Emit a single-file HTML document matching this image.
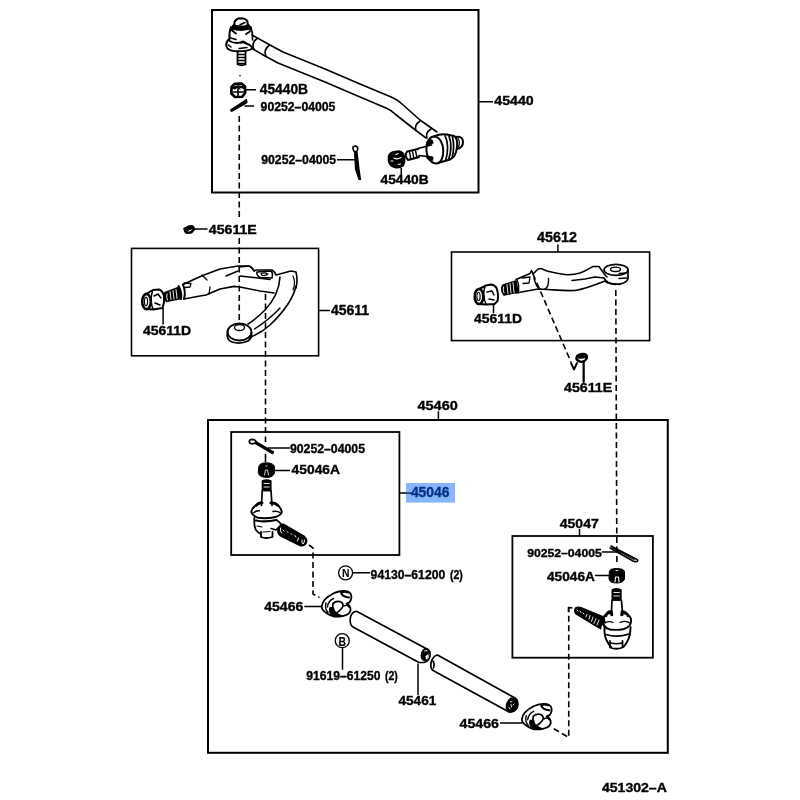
<!DOCTYPE html>
<html><head><meta charset="utf-8"><style>
html,body{margin:0;padding:0;background:#fff;}
svg{display:block;will-change:transform;}
text{font-family:"Liberation Sans",sans-serif;font-weight:bold;stroke:#000;stroke-width:0.35px;}
</style></head><body>
<svg width="800" height="800" viewBox="0 0 800 800">
<rect x="0" y="0" width="800" height="800" fill="#fff"/>
<rect x="406" y="483" width="49" height="19.6" fill="#86b5fd"/>
<path d="M405.5,493.1H412" stroke="#023283" stroke-width="1.5"/>
<g fill="none" stroke="#000" stroke-linecap="round" stroke-linejoin="round">
<!-- boxes -->
<g stroke-linecap="butt" stroke-linejoin="miter">
<rect x="212" y="10" width="266.5" height="182.5" stroke-width="2"/>
<rect x="131.5" y="248.4" width="187.1" height="107.4" stroke-width="1.6"/>
<rect x="451.5" y="252" width="198.1" height="88.6" stroke-width="1.6"/>
<rect x="208" y="420" width="459.8" height="332.8" stroke-width="2"/>
<rect x="231.2" y="432" width="168.2" height="123" stroke-width="1.8"/>
<rect x="512.4" y="536" width="140.5" height="121.7" stroke-width="1.8"/>
</g>
<!-- leaders -->
<g stroke-width="1.5" stroke-linecap="butt">
<path d="M246,89.75H256 M244.5,105.9H254 M337,159.75H357 M479,101.75H493 M401.25,168V175
M194.4,228.9H207.5 M319,310.6H330 M163.1,308V324.4 M557.9,244.4V252 M493.5,303.75V313 M583.5,360.6V381.9
M438.4,411.25V419 M268,448H289.9 M275,470.6H290 M399.4,493.1H406 M352.75,572.85H370 M304.3,606.45H321.25
M579.5,529V536 M601.75,552H622 M595,575.5H609.7 M342.5,648V669.75 M418,663.5V695 M500,723H522.5"/>
</g>
<!-- drag link 45440 -->
<g stroke-width="1.6">
<!-- bar -->
<path d="M252,35 L270,45 L283,52 L325,69 L360,84 L390,96.5 Q398,100 402,104 L420,120 L437,132"/>
<path d="M253,49 L265,56 L278,63 L325,82 L360,97 L386,108 Q391,110 395,114 L414,129 L426,138"/>
<path d="M257,38.5 Q251,43 254,49.5"/>
<path d="M269,45.5 Q263,50 266,56.5"/>
<path d="M420,121 Q414,125 416,130.5"/>
<path d="M431,129 Q425,133 427,138"/>
<!-- left ball joint -->
<path d="M231.5,27 Q233,24 235,23.5 L247,23.5 Q250,24.5 251,27.5 L251.5,30.5 L248,29.5 Q241,31.5 233,29.5 L230.5,30.5 Z" fill="#000" stroke-width="1"/>
<path d="M234.5,25 C233.5,19.5 238,18.3 241.5,18.3 C246,18.5 248.5,20.5 247.5,26" stroke-width="2" fill="#fff"/>
<path d="M235,25.5 Q241,28.5 247,25.5" stroke-width="1.8"/>
<path d="M240,24.8 L245,22.5" stroke-width="1.5"/>
<path d="M231,27 Q229,32 229.5,39.5" stroke-width="2"/>
<path d="M251,27 Q253,33 252.5,40" stroke-width="1.6"/>
<path d="M232,30.5 L236,33.5 M246,34 L250,31.5 M231,38 L236,39.5" stroke-width="1.8"/>
<path d="M228.5,39.5 Q224.5,44 227.5,48.5 Q231,51.5 239,51.3 Q248,51.3 252.5,48.5" stroke-width="2"/>
<path d="M229.5,41 Q233,43 237,43 Q241,42 244,42.5 Q249,44 253,48" stroke-width="1.9"/>
<path d="M241,42.5 Q243,40.5 245.5,43" stroke-width="2.2"/>
<path d="M228.5,45 L231,47 M239,48.5 L247,47.5" stroke-width="1.5"/>
<path d="M237.5,51.5 V64.5 Q241.5,66 245.5,64.5 V51.5" stroke-width="1.8"/>
<path d="M238,54.5 H245 M238,57.5 H245 M238,60.5 H245 M238,63.5 H245" stroke-width="1.5"/>
<circle cx="240" cy="75.75" r="0.8" fill="#000" stroke="none"/>
<!-- nut top 45440B -->
<path d="M231.5,87 L234.5,83.8 L241.5,83.5 L245,86.5 L245.2,93 L242,96.8 L235,97 L231.3,93.5 Z" stroke-width="2.6"/>
<path d="M233,88 Q238,85 244,88" stroke-width="2.4"/>
<path d="M233,92 H244 M238,89 V96" stroke-width="1.6"/>
<path d="M234.5,89 L237,87.5 L240,89" stroke-width="1.2"/>
<!-- cotter pin top -->
<path d="M230.5,110 L246.5,99.5 L247,102.5 L244,104.5 L231.5,111.5 Z" fill="#000" stroke-width="1.2"/>
<!-- cotter pin 2 -->
<path d="M353,148.5 Q352.5,146 355.5,146 Q358,146.5 357.8,149 Q357.5,151.5 355.5,152 Q353.5,151.5 353,148.5 Z" stroke-width="1.6"/>
<path d="M354.5,151.5 L357,151.5 L359,169 L360.5,179.5 L359,179.5 L355.5,169 Z" fill="#000" stroke-width="1.2"/>
<!-- right ball joint -->
<path d="M434,136.5 C424,137 423,162 436,163.5 C446,164 446,137 434,136.5 Z" stroke-width="2"/>
<path d="M434,136.5 Q440,133.5 447,134.5 L454,136 Q458,138 457,147 Q456,157 450,159.5 L438,163" stroke-width="2"/>
<path d="M445,135.5 Q450,146 445.5,161 M449,136 Q453,147 448.5,160 M452.5,137 Q455,147 452,158" stroke-width="1.7"/>
<path d="M456,137 Q463,136 463,142 Q463,148 457,149" stroke-width="2"/>
<path d="M458,138.5 Q460.5,142 458.5,147" stroke-width="1.2"/>
<path d="M426.5,143 Q428,139.5 432,140 L433,143 Q430,144 427,146 Z" fill="#000" stroke-width="1.2"/>
<path d="M427,156 Q430,158 433,157.5 L432,161 Q429,160 427,158 Z" fill="#000" stroke-width="1.2"/>
<path d="M431.5,145 L418,148.5 M432,157.2 L419,155.5" stroke-width="1.7"/>
<path d="M418,149 L407,151.5 Q404,156 408,160 L419,157" stroke-width="1.9"/>
<path d="M409.5,152 L411,159.5 M412.5,151.3 L414,159 M415.5,150.5 L417,158" stroke-width="1.4"/>
<!-- nut bottom 45440B -->
<path d="M388.5,156 Q390,152 395,151.5 L399,151 Q403.5,152 404.5,156 Q405.5,162 403,166 Q399.5,168.5 395,167.5 Q389.5,166 388.5,161 Z" fill="#000" stroke-width="1.4"/>
<path d="M396,154.5 L398,153.5 M394,158 Q397,160 401,157.5 M391,161 L393,161 M398.5,164.5 L400.5,164" stroke="#fff" stroke-width="1.1"/>
</g>

<!-- pitman arm 45611 -->
<g stroke-width="1.6">
<!-- nut -->
<path d="M147,293.5 L153,290 L159,289.5 Q163,291 164,296 Q165,302 162.5,308 L153,309.5 L147,309" stroke-width="2"/>
<ellipse cx="146.5" cy="301.5" rx="4.3" ry="7.6" stroke-width="2.6"/>
<ellipse cx="146" cy="301.5" rx="1.6" ry="4.2" stroke-width="1.2"/>
<path d="M152.5,291 Q149.5,301 153,309 M154,296 L158,294 L161,298 M155,303 L160,305" stroke-width="1.5"/>
<!-- thread -->
<path d="M165,292.5 L178.5,287.5 L181,298.5 L166.5,301.5 Q163.5,297 165,292.5 Z" fill="#000" stroke-width="1.5"/>
<path d="M167,294 Q166,297.5 167.5,300 M170,291.5 L171,299.5 M173,290.5 L174,299 M176,289.5 L177,298.5" stroke="#fff" stroke-width="0.9"/>
<path d="M178.5,286 Q182,292 181,299 M183,284.5 Q186,292 184,299" stroke-width="2"/>
<!-- arm -->
<path d="M183,284.5 L197,278 L204,275 L220,269 L238,266 L249,266 Q252,267 254,271"/>
<path d="M184,299 L200,296 L206,295 L220,289 L234,286.4 L240,287 L260,291 L274,293"/>
<path d="M202,275 L207,280 M210,287 L209,294 M184,283 L191,283.5 L190,287 L185,287.5" stroke-width="1.3"/>
<path d="M226,276 L238,271" stroke-width="1.5"/>
<!-- head -->
<path d="M239,267 L249,266 Q252,267 254,271 L256,270 L272,270 Q275,272 276,275 L291,271 L296,272 Q298,280 296,288" />
<path d="M240,276 L253.5,277.5 L270,279.5" stroke-width="1.5"/>
<path d="M257,272 L270.5,271 Q273.5,272.5 272,278 L260,277.5 Q256,275 257,272 Z" stroke-width="1.5"/>
<path d="M261,273.5 Q265,272 268,274 Q266,276 262,275.5 Z" stroke-width="1.1"/>

<!-- bend -->
<path d="M296,286 Q292,304 270,325 Q261,333 251,337" />
<path d="M280,277 Q279,295 265,310 Q256,319 248,324" />
<path d="M280,308 Q270,319 254.5,329" stroke-width="1.4"/>
<path d="M293,276 Q296,283 293,290" stroke-width="1.2"/>
<!-- eye -->
<ellipse cx="239.5" cy="332" rx="12" ry="8.5" stroke-width="1.8"/>
<path d="M227.5,332 Q226,340 232,342 Q240,344.5 248,341 Q252,338 251.5,333" stroke-width="1.8"/>
<ellipse cx="239.5" cy="327.5" rx="5" ry="3" stroke-width="1.4"/>
</g>
<!-- small clip 45611E -->
<path d="M183.8,228.5 L188,226.2 L192,225.5 Q194.5,226.5 194.5,229.5 L191.5,233 L186.5,233.5 Q184,232 183.8,228.5 Z" fill="#000" stroke-width="1.2"/>
<path d="M187.5,231.5 Q189.5,229.5 192.8,229.3 Q191,231.5 188,231.8 Z" fill="#fff" stroke="none"/>

<!-- idler arm 45612 -->
<g stroke-width="1.6">
<!-- nut -->
<path d="M479,289 L486,285.5 L491,284.5 Q495,285 496.5,288 Q499,295 497.5,301 L494.5,304 L486,304.5 L479,304" stroke-width="2"/>
<ellipse cx="479" cy="296.5" rx="4.3" ry="7.5" stroke-width="2.6"/>
<ellipse cx="478.5" cy="296.5" rx="1.6" ry="4" stroke-width="1.2"/>
<path d="M485,286 Q482,296 486,304 M487,292 L492,291 L494,295 M489,299 L494,300" stroke-width="1.5"/>
<!-- thread -->
<path d="M503,285 L516,281 L518,292 L504,295 Q500,290 503,285 Z" fill="#000" stroke-width="1.6"/>
<path d="M503.5,287 Q502.5,290 504,293 M507,284.5 L508,293.5 M510,283.5 L511,293 M513,282.5 L514,292.5" stroke="#fff" stroke-width="0.9"/>
<!-- shaft/arm -->
<path d="M516,279.5 L530,273.5 L531.5,270.5 L533,274 L538,269 L541,268.5 L547,271 C555,273 560,274 565,274.5 C570,275 575,274.5 580,273 C586,271 590,268 593,266.5 L599,266.5 L605,275 L607,277"/>
<path d="M516,293 L538,289 L548,289.5 C556,290 565,291 575,290.5 C582,289.5 590,287 605,281 L608,283 L620,284.5"/>
<path d="M517,280 Q520,286 518,293" stroke-width="1.3"/>
<path d="M522,278 L530,277 L529,283 L523,283.5" stroke-width="1.3"/>
<path d="M534,278 Q536,287 540,289 M545,289 Q549,287 548.5,278.5" stroke-width="1.4"/>
<path d="M572,280.5 L585,279 L595,277 L604,278" stroke-width="1.6"/>
<!-- eye -->
<ellipse cx="616" cy="269.8" rx="12" ry="5.5" stroke-width="1.7"/>
<ellipse cx="615.5" cy="269.3" rx="5" ry="2.2" stroke-width="1.4"/>
<path d="M628,270 L628,279 Q626,284 615,284.5 Q607,284 604,278" stroke-width="1.7"/>
<path d="M619,278.5 L627,278 M619,273.5 L626,273" stroke-width="1.3"/>
</g>
<!-- small clip 45611E right -->
<path d="M576.5,357.5 Q577,354.5 583,354 Q587,354 587,357.5 Q586,361 582,361.8 Q578.5,362 576.5,359 Z" stroke-width="2.3"/>
<path d="M578,357 Q582,354.5 586,356.5 L585.5,357.5 Q582,358.5 578.5,358 Z" fill="#000" stroke-width="1.2"/>
<path d="M571,363 L574,369.5 L577,363" stroke-width="1.9"/>
<path d="M583.7,361.5 V382" stroke-width="2"/>

<!-- tie rod end 45046 -->
<g stroke-width="1.6">
<!-- cotter pin -->
<path d="M254.5,442 L272.5,452.5" stroke-width="3.2"/>
<path d="M249.3,441.5 Q249.3,439.3 252.5,439.3 Q256,439.6 256,441.8 Q255,443.8 252,443.8 Q249.3,443.6 249.3,441.5 Z" stroke-width="1.7" fill="#fff"/>
<!-- nut -->
<path d="M259,466 Q260,462.8 266.4,462.8 Q273.8,463 274.5,467 L274.5,473 Q273,477.5 266.4,477.5 Q259,477 258.3,473 Z" fill="#000" stroke-width="1"/>
<path d="M264.5,475 L265.5,470 L267.5,470 L268.5,475 M266,466 H267" stroke="#fff" stroke-width="0.8"/>
<!-- stud -->
<path d="M262.5,490.5 L262.5,481 Q266.5,479 270.8,481 L270.8,490.5 Z" stroke-width="1.6" fill="#000"/>
<path d="M264,483.5 H269.3 M264,487 H269.3" stroke="#fff" stroke-width="0.9"/>
<path d="M263.5,490.5 H270" stroke-width="1.4"/>
<path d="M262.2,490.5 L261.5,505.5 M271,490.5 L272,505.5" stroke-width="1.7"/>
<!-- flange -->
<path d="M258,504 Q252.5,507 251.3,511.5 Q251.5,515 258,517.8 Q266,519 275.5,517 Q281.5,515 281.8,512 Q281,507 275,503" stroke-width="1.9"/>
<path d="M256,505.5 Q259,502.5 262,502.8 M270.8,502.8 Q274,502.5 278,505.5" stroke-width="2.8"/>
<path d="M253.8,512.6 Q256,510.5 259.5,510.8 M273,511.5 Q277,510.5 280,512.6" stroke-width="1.5"/>
<!-- housing -->
<path d="M254.3,518 Q254,527 256,530 Q258,533 261,534" stroke-width="1.8"/>
<path d="M256,520.5 Q265,522.5 276.5,520" stroke-width="2.2"/>
<path d="M257,526 L262,527" stroke-width="1.2"/>
<path d="M261,532 L261,537 Q266,539 272.5,537 L272.5,532" stroke-width="1.8"/>
<path d="M263,532 L270,531.5" stroke-width="1.2"/>
<path d="M277,520.5 Q280,522 281,524.5" stroke-width="1.8"/>
<!-- threaded shank -->
<path d="M281,524.5 Q283,523.5 285,525 L304,536 Q308,539.5 306,543.5 Q303.5,546.5 300,545.5 L280,535.5 Q277,533 278,529 Q279,526 281,524.5 Z" fill="#000" stroke-width="1.4"/>
<path d="M280.5,528 Q280,531 281.5,533 M283,530 L284,531 M287,531.5 L288,532.5 M291,533.5 L292,534.5 M295,535.5 L296,537 M298.5,538 L297.5,541 M302,540 Q301.5,543 303,544 Q305,542 304.5,540" stroke="#fff" stroke-width="1"/>
<path d="M271,528.5 L276,530 L279,527" stroke-width="1.6"/>
</g>

<!-- tie rod end 45047 -->
<g stroke-width="1.6">
<!-- cotter pin -->
<path d="M611,546 L636,559 Q639,560 637,561.5 Q635,562 633,561 L610,548" stroke-width="1.6"/>
<path d="M612,547.5 L634,559.5" stroke-width="1.2"/>
<!-- nut -->
<path d="M609.5,571 Q610,568.5 616.5,568.5 Q623.5,568.5 624.5,571.5 L624.5,579 Q623,583 616.5,583 Q609.5,583 609,579 Z" fill="#000" stroke-width="1"/>
<path d="M616,570.5 H618" stroke="#fff" stroke-width="0.9"/>
<path d="M615,582 L615.5,577 L618.5,577 L619,582" stroke="#fff" stroke-width="1.1"/>
<!-- stud -->
<path d="M612.3,600 L612.3,590 Q616.6,587.8 620.9,590 L620.9,600 Z" stroke-width="1.6" fill="#000"/>
<path d="M613.8,592.5 H619.4 M613.8,596 H619.4" stroke="#fff" stroke-width="0.9"/>
<path d="M613,600 H620" stroke-width="1.4"/>
<path d="M612,600 L611.3,615 M621.4,600 L622.7,615" stroke-width="1.7"/>
<!-- flange -->
<path d="M603,619 Q603.5,614.5 610,613 M623,613 Q630,614.5 631,619 Q632.5,626 624,629 Q617,630.5 610,629.5 Q602,627.5 603,619" stroke-width="1.9"/>
<path d="M606,616 Q607,611 611.5,611.5 L612,615 M621.5,615 L622,611.5 Q627,612 628,616" stroke-width="2.6"/>
<path d="M605,623 Q609,620.5 613,622.5 M620,622.5 Q626,620 630,623" stroke-width="1.3"/>
<!-- housing -->
<path d="M604.5,627 Q604,636 607,641 Q609,645 611,647 M630.5,627 Q630.5,636 627.5,641 Q626,644 623.5,647" stroke-width="1.9"/>
<path d="M606,634.5 Q617,638 629,634" stroke-width="1.7"/>
<path d="M610,641 L610,647.5 Q616,650 622.5,647.5 L622.5,641" stroke-width="1.8"/>
<path d="M611,643 Q616.5,644.5 622,643" stroke-width="1.3"/>
<!-- threaded shank -->
<path d="M576,607.5 Q578.5,606.5 581,607.5 L604,617 L605,622 L599,628 L576,614 Q573,611 576,607.5 Z" fill="#000" stroke-width="1.2"/>
<path d="M577,610 L578,611 M580,611 L581,612.5 M583,613 L584,614 M587,614.5 L586,617 M590,615.5 L589,619 M593,617 L591.5,621.5 M596,618.5 L594,623.5 M599,620 L597,625" stroke="#fff" stroke-width="0.9"/>
<path d="M604,617 Q600,622 600.5,628.5" stroke-width="1.8"/>
</g>

<!-- tubes 45461 -->
<g stroke-width="1.7">
<path d="M357,611.5 L425,648.1 Q431,650 430,656 Q429,661 424,662.5 L419,662.5 L353,627 Q349,624 350.5,617 Q352.5,611 357,611.5 Z"/>
<path d="M425,648.5 Q420,652 421.5,658 Q423,661.5 426,660 Q428,655 430,651.5 Q427,648 425,648.5 Z" fill="#000" stroke-width="1.2"/>
<path d="M425.5,656.5 Q427,654 428.5,654.5 Q428,658 426,659.5 Z" fill="#fff" stroke="none"/>
<path d="M424.5,651 L427,650.5" stroke="#fff" stroke-width="0.9"/>
<path d="M437.5,655 L515,698 Q519,701 517.5,707 Q515,712.5 509,712 L434,671 Q430,669 431,663 Q432.5,656 437.5,655 Z"/>
<path d="M433,661 Q435,664 433.5,668" stroke-width="1.5"/>
<path d="M511,698 Q505,703 506.5,709 Q509,713 514,711 Q518.5,706 516,700.5 Q514,697.5 511,698 Z" fill="#000" stroke-width="1.2"/>
<path d="M510.5,702 L512,701.5 M511,704.5 L511.5,707 M513,705 L514,704 M509,707.5 L510,709" stroke="#fff" stroke-width="0.9"/>
</g>
<!-- clamps 45466 -->
<g id="clampL" stroke-width="1.8">
<path d="M321.8,606 Q322.5,599 333.8,593.2 Q339,591 343.5,591 Q349,591 350.8,594 Q352.5,598 349.5,602.3 L346.5,603.5 Q351,606 350.5,610.5 Q349.5,614.5 343.5,615.8 Q338,617 333.8,616.5 Q326,614 322.5,609.5 Q321.5,607.5 321.8,606 Z" fill="#fff"/>
<path d="M341,593 Q343,597 349,597.5 M342,592.5 Q344,591 348,592.5" stroke-width="2"/>
<path d="M333,603.5 Q337,600 341,602 Q344.5,604.5 342,608 Q339,612 335,613.5 Q332,610 333,603.5 Z" stroke-width="1.7"/>
<path d="M344,606 Q347,604 349,607" stroke-width="1.5"/>
<path d="M333.5,598.5 Q328,601 327.5,607 M326,603 Q324.5,609 328,612.5" stroke-width="1.4"/>
<path d="M333.5,607.5 Q333.5,613 342,616 Q336,617 331.5,614.5 Q328.5,611.5 330,607.5 Z" fill="#000" stroke-width="1.2"/>
</g>
<use href="#clampL" transform="translate(200.2,112.8)"/>


<!-- circles -->
<circle cx="345.6" cy="572.8" r="7" stroke-width="1.3"/>
<circle cx="342.25" cy="640.65" r="7" stroke-width="1.3"/>
<!-- dashed -->
<g stroke-width="1.6" stroke-dasharray="6,3.5" stroke-linecap="butt">
<path d="M239.25,116V220"/>
<path d="M239.25,238V324"/>
<path d="M265.5,294V442"/>
<path d="M265.5,453.75V462" stroke-dasharray="none"/>
<path d="M615.8,290L616.9,562"/>
<path d="M533,274L571,362"/>
<path d="M309,545L313,548V594L319.5,597.5"/>
<path d="M553.75,728.75L568.75,737.5V607"/>
<path d="M568.5,612V607.5L572.5,608" stroke-dasharray="none"/>
</g>
</g>

<g>
<text transform="translate(259.75,93.61) scale(0.9794,1)" font-size="14.08" fill="#000">45440B</text>
<text transform="translate(260.60,111.13) scale(0.9944,1)" font-size="12.32" fill="#000">90252–04005</text>
<text transform="translate(261.25,164.27) scale(0.9256,1)" font-size="13.24" fill="#000">90252–04005</text>
<text transform="translate(494.25,105.37) scale(1.0906,1)" font-size="13.03" fill="#000">45440</text>
<text transform="translate(380.50,183.63) scale(1.1170,1)" font-size="12.32" fill="#000">45440B</text>
<text transform="translate(208.75,233.62) scale(1.0770,1)" font-size="13.17" fill="#000">45611E</text>
<text transform="translate(331.00,315.45) scale(0.9365,1)" font-size="14.93" fill="#000">45611</text>
<text transform="translate(142.90,335.48) scale(1.1437,1)" font-size="12.25" fill="#000">45611D</text>
<text transform="translate(537.10,241.76) scale(1.0165,1)" font-size="14.08" fill="#000">45612</text>
<text transform="translate(474.10,322.97) scale(1.0565,1)" font-size="13.17" fill="#000">45611D</text>
<text transform="translate(564.00,391.78) scale(1.1467,1)" font-size="12.39" fill="#000">45611E</text>
<text transform="translate(417.50,409.87) scale(1.0936,1)" font-size="13.24" fill="#000">45460</text>
<text transform="translate(289.90,452.63) scale(0.9970,1)" font-size="12.32" fill="#000">90252–04005</text>
<text transform="translate(291.60,474.46) scale(1.0234,1)" font-size="13.52" fill="#000">45046A</text>
<text transform="translate(370.60,579.07) scale(0.9318,1)" font-size="13.10" fill="#000">94130–61200</text>
<text transform="translate(264.25,611.12) scale(1.1067,1)" font-size="12.68" fill="#000">45466</text>
<text transform="translate(559.75,527.66) scale(1.0375,1)" font-size="13.52" fill="#000">45047</text>
<text transform="translate(527.20,556.64) scale(1.1160,1)" font-size="10.92" fill="#000">90252–04005</text>
<text transform="translate(547.00,581.37) scale(1.0235,1)" font-size="13.38" fill="#000">45046A</text>
<text transform="translate(306.25,679.87) scale(0.9376,1)" font-size="12.96" fill="#000">91619–61250</text>
<text transform="translate(398.40,705.26) scale(1.0044,1)" font-size="13.59" fill="#000">45461</text>
<text transform="translate(459.60,727.97) scale(1.0878,1)" font-size="13.03" fill="#000">45466</text>
<text transform="translate(601.90,792.37) scale(1.0638,1)" font-size="13.24" fill="#000">451302–A</text>
<text transform="translate(450.00,579.00) scale(0.8160,1)" font-size="12.86" fill="#000">(2)</text>
<text transform="translate(385.00,680.00) scale(0.7731,1)" font-size="13.57" fill="#000">(2)</text>
<text transform="translate(342.00,577.00) scale(0.8984,1)" font-size="11.59" fill="#000" style="stroke-width:0.1px">N</text>
<text transform="translate(338.50,645.75) scale(0.8712,1)" font-size="11.96" fill="#000" style="stroke-width:0.1px">B</text>
<text transform="translate(410.90,497.20) scale(0.9525,1)" font-size="14.58" fill="#023283" style="stroke:#023283">45046</text>
</g>
</svg>
</body></html>
